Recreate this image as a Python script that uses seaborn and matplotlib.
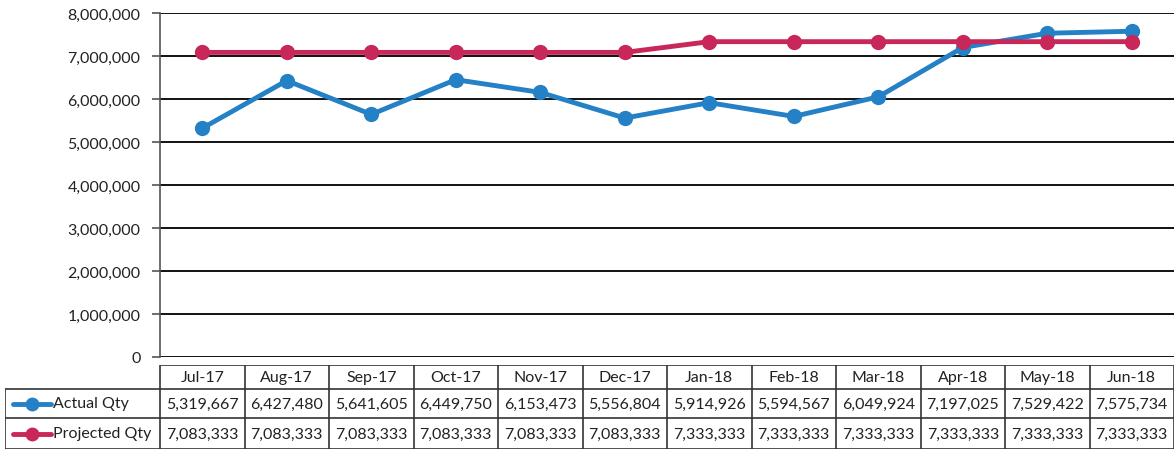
import numpy as np
import pandas as pd
import matplotlib.pyplot as plt
from matplotlib.lines import Line2D
import seaborn as sns

sns.set_style("white")
plt.rcParams['font.family'] = ['Lato', 'DejaVu Sans']

# data
months = ["Jul-17", "Aug-17", "Sep-17", "Oct-17", "Nov-17", "Dec-17",
          "Jan-18", "Feb-18", "Mar-18", "Apr-18", "May-18", "Jun-18"]
actual_qty = [5319667, 6427480, 5641605, 6449750, 6153473, 5556804,
              5914926, 5594567, 6049924, 7197025, 7529422, 7575734]
projected_qty = [7083333, 7083333, 7083333, 7083333, 7083333, 7083333,
                 7333333, 7333333, 7333333, 7333333, 7333333, 7333333]
series_names = ["Actual Qty", "Projected Qty"]
colors = ["#2481C6", "#C8275A"]

df = pd.DataFrame({
    "idx": list(range(len(months))) * 2,
    "value": actual_qty + projected_qty,
    "series": [series_names[0]] * len(months) + [series_names[1]] * len(months),
})

FS = 11.5
W, H = 1176, 452
fig = plt.figure(figsize=(W / 100, H / 100), dpi=100)

ax_left, ax_right = 160 / W, 1174 / W
ax_top, ax_bot = 1 - 14 / H, 1 - 358 / H
ax = fig.add_axes([ax_left, ax_bot, ax_right - ax_left, ax_top - ax_bot])

sns.lineplot(data=df, x="idx", y="value", hue="series", palette=colors,
             marker="o", markersize=11, linewidth=3.5, markeredgewidth=0,
             legend=False, ax=ax)

ax.set_xlim(-0.5, len(months) - 0.5)
ax.set_ylim(0, 8000000)
ax.set_yticks(np.arange(0, 8000001, 1000000))
ax.yaxis.set_major_formatter(plt.FuncFormatter(lambda v, p: f"{int(v):,}"))
ax.grid(axis="y", color="#111111", linewidth=1.4)
ax.set_axisbelow(True)
for s in ["top", "right", "bottom"]:
    ax.spines[s].set_visible(False)
ax.spines["left"].set_color("#555555")
ax.spines["left"].set_linewidth(1.2)
ax.tick_params(axis="y", length=6, width=1.2, color="#555555", labelsize=FS,
               left=True, pad=8, labelcolor="#222222")
ax.set_xticks([])
ax.set_xlabel("")
ax.set_ylabel("")

# data table below
tab_left, tab_right = 5 / W, 1174 / W
tab_top, tab_bot = 1 - 366 / H, 1 - 450 / H
tax = fig.add_axes([tab_left, tab_bot, tab_right - tab_left, tab_top - tab_bot])
tax.set_axis_off()
tax.set_xlim(0, tab_right * W - tab_left * W)
tax.set_ylim(tab_bot * H, tab_top * H)

label_w = 155
col_w = (tax.get_xlim()[1] - label_w) / len(months)
y_edges = [H - 366, H - 390, H - 419, H - 450]

def hline(x0, x1, y):
    tax.plot([x0, x1], [y, y], color="#333333", lw=1.2, solid_capstyle="butt")

def vline(x, y0, y1):
    tax.plot([x, x], [y0, y1], color="#333333", lw=1.2, solid_capstyle="butt")

hline(label_w, tax.get_xlim()[1], y_edges[0])
for y in y_edges[1:]:
    hline(0, tax.get_xlim()[1], y)
vline(0, y_edges[1], y_edges[3])
for i in range(len(months) + 1):
    vline(label_w + i * col_w, y_edges[0], y_edges[3])

for i, m in enumerate(months):
    cx = label_w + (i + 0.5) * col_w
    tax.text(cx, (y_edges[0] + y_edges[1]) / 2, m, ha="center", va="center",
             fontsize=FS, color="#222222")
    for r, vals in enumerate([actual_qty, projected_qty]):
        tax.text(cx, (y_edges[r + 1] + y_edges[r + 2]) / 2, f"{vals[i]:,}",
                 ha="center", va="center", fontsize=FS, color="#222222")

for r, name in enumerate(series_names):
    yc = (y_edges[r + 1] + y_edges[r + 2]) / 2
    tax.add_line(Line2D([8, 46], [yc, yc], color=colors[r], lw=3.5))
    tax.plot([27], [yc], marker="o", markersize=10, color=colors[r], mew=0)
    tax.text(48, yc, name, ha="left", va="center", fontsize=FS, color="#222222")

fig.savefig("out.png", dpi=100)
